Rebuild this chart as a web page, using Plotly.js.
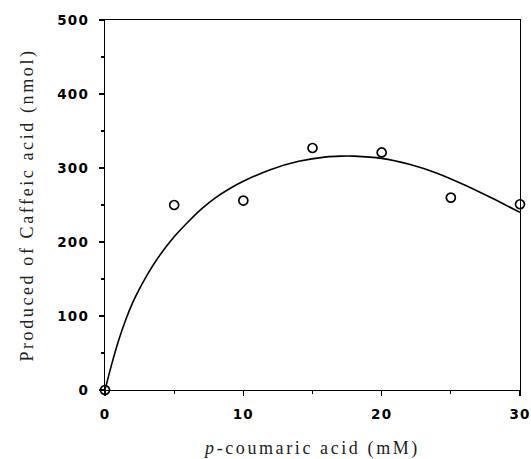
<!DOCTYPE html>
<html>
<head>
<meta charset="utf-8">
<script src="https://cdn.plot.ly/plotly-3.0.1.min.js"></script>
<style>
html,body{margin:0;padding:0;background:#fff;}
#chart{width:531px;height:459px;}
#chart .xtitle, #chart .ytitle{letter-spacing:2.6px;}
#chart .xtick text, #chart .ytick text{letter-spacing:1.2px;}
</style>
</head>
<body>
<div id="chart"></div>
<script>
// Measured data points
var concentration = [0, 5, 10, 15, 20, 25, 30];
var caffeicAcid = [0, 250, 256, 327, 321, 260, 251];

// Fitted curve
var curveX = [0, 0.5, 1, 1.5, 2, 2.5, 3, 4, 5, 6, 7, 8, 9, 10, 12, 14, 16, 17, 18, 20, 22, 24, 26, 28, 30];
var curveY = [0, 36, 68, 95, 118, 137, 154, 183, 207, 227, 245, 260, 272, 282, 298, 309, 315, 316, 316, 313, 305, 293, 277, 259, 240];

var xTicks = [0, 10, 20, 30];
var yTicks = [0, 100, 200, 300, 400, 500];

var traces = [
  {
    x: curveX, y: curveY, type: 'scatter', mode: 'lines',
    line: {color: '#000', width: 1.6, shape: 'spline', smoothing: 0.8},
    hoverinfo: 'skip', cliponaxis: false
  },
  {
    x: concentration, y: caffeicAcid, type: 'scatter', mode: 'markers',
    marker: {symbol: 'circle-open', size: 9, color: '#000', line: {width: 1.7, color: '#000'}},
    cliponaxis: false
  }
];

var tickFont = {family: 'DejaVu Sans, Arial, sans-serif', size: 13.5, color: '#000', weight: 'bold'};
var titleFont = {family: 'Liberation Serif, Times New Roman, serif', size: 18, color: '#222'};

var layout = {
  width: 531, height: 459,
  margin: {l: 105, r: 11, t: 20, b: 69},
  paper_bgcolor: '#fff', plot_bgcolor: '#fff',
  showlegend: false,
  xaxis: {
    range: [0, 30], tickvals: xTicks, ticktext: xTicks.map(String),
    ticks: 'outside', ticklen: 5, tickwidth: 1.3, tickcolor: '#000',
    minor: {dtick: 5, ticks: 'outside', ticklen: 3, tickwidth: 1.2, tickcolor: '#000'},
    showline: true, linecolor: '#000', linewidth: 1.3, mirror: true,
    showgrid: false, zeroline: false, automargin: false,
    ticklabelstandoff: 6,
    tickfont: tickFont,
    title: {text: '<i>p</i>-coumaric acid (mM)', font: titleFont, standoff: 25}
  },
  yaxis: {
    range: [0, 500], tickvals: yTicks, ticktext: yTicks.map(String),
    ticks: 'outside', ticklen: 5, tickwidth: 1.3, tickcolor: '#000',
    minor: {dtick: 50, ticks: 'outside', ticklen: 3, tickwidth: 1.2, tickcolor: '#000'},
    showline: true, linecolor: '#000', linewidth: 1.3, mirror: true,
    showgrid: false, zeroline: false, automargin: false,
    ticklabelstandoff: 7,
    tickfont: tickFont,
    title: {text: 'Produced of Caffeic acid (nmol)', font: titleFont, standoff: 22}
  }
};

Plotly.newPlot('chart', traces, layout, {staticPlot: true, displayModeBar: false});
</script>
</body>
</html>
